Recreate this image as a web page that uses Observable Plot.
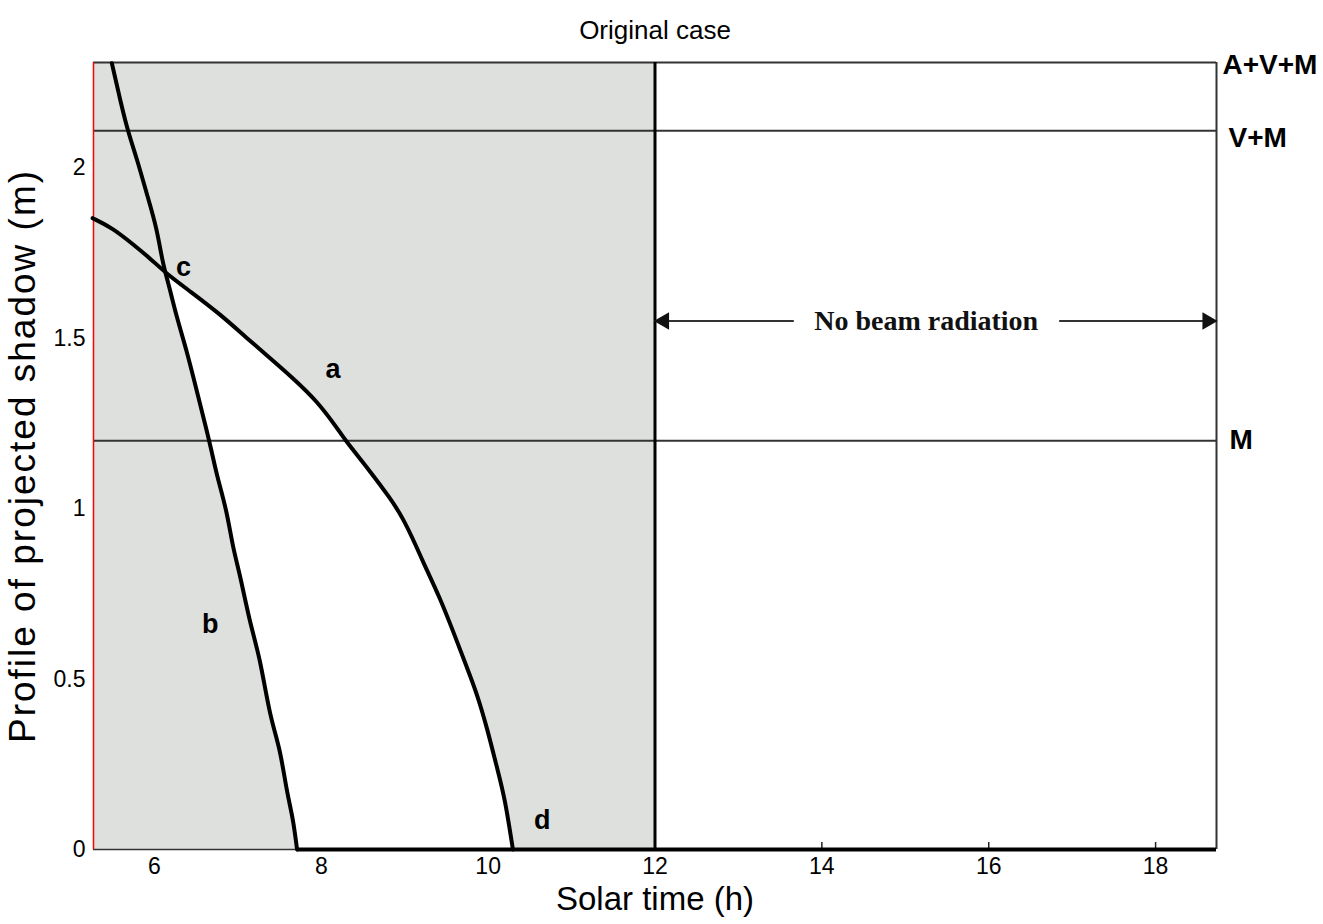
<!DOCTYPE html>
<html><head><meta charset="utf-8">
<script src="https://cdn.jsdelivr.net/npm/d3@7"></script>
<script src="https://cdn.jsdelivr.net/npm/@observablehq/plot@0.6"></script>
<style>html,body{margin:0;padding:0;background:#fff} svg{display:block}</style>
</head><body><div id="chart"></div>
<script>
// ---- data ----
const xDomain = [5.27, 18.73];
const yDomain = [0, 2.31];
const xTicks = [6, 8, 10, 12, 14, 16, 18];
const yTicks = [0, 0.5, 1, 1.5, 2];

const curveAx = [5.26, 5.50, 5.74, 5.945, 6.149, 6.425, 6.784, 7.108, 7.384, 7.659, 7.947, 8.187, 8.29, 8.583, 8.823, 8.978, 9.146, 9.218, 9.422, 9.578, 9.746, 9.866, 9.986, 10.106, 10.20, 10.297];
const curveAy = [1.853, 1.824, 1.777, 1.736, 1.689, 1.639, 1.572, 1.501, 1.443, 1.384, 1.317, 1.238, 1.2, 1.111, 1.032, 0.974, 0.886, 0.845, 0.739, 0.642, 0.534, 0.457, 0.358, 0.240, 0.152, 0];

const curveBx = [5.49, 5.585, 5.681, 5.789, 5.909, 6.029, 6.101, 6.161, 6.269, 6.389, 6.508, 6.628, 6.685, 6.755, 6.868, 6.940, 7.024, 7.146, 7.266, 7.386, 7.505, 7.59, 7.66, 7.71];
const curveBy = [2.308, 2.205, 2.108, 2.029, 1.924, 1.824, 1.718, 1.669, 1.560, 1.463, 1.346, 1.229, 1.170, 1.091, 0.994, 0.886, 0.809, 0.663, 0.563, 0.387, 0.299, 0.164, 0.094, 0];

const pointC = [6.16, 1.68];          // crossing of curves a and b
const noonTime = 12;                   // no beam radiation after solar noon

const levelNames = ["A+V+M", "V+M", "M"];
const levelValues = [2.31, 2.11, 1.2];

const curveLabels = ["a", "b", "c", "d"];
const curveLabelX = [8.14, 6.67, 6.35, 10.65];
const curveLabelY = [1.41, 0.66, 1.71, 0.085];

const noBeamText = "No beam radiation";
const noBeamX = 15.25;
const noBeamY = 1.551;
const noBeamArrowFrom = [13.67, 16.85];

const titleText = "Original case";
const xLabelText = "Solar time (h)";
const yLabelText = "Profile of projected shadow (m)";

// ---- build tables ----
const curveA = curveAx.map((x, i) => ({x, y: curveAy[i]}));
const curveB = curveBx.map((x, i) => ({x, y: curveBy[i]}));
const cPt = {x: pointC[0], y: pointC[1]};
const whiteRegion = [cPt, ...curveB.filter(d => d.y < pointC[1]), ...curveA.filter(d => d.y < pointC[1]).reverse()];
const shaded = [{from: xDomain[0], to: noonTime}];
const levels = levelNames.map((name, i) => ({name, value: levelValues[i]}));
const labels = curveLabels.map((t, i) => ({t, x: curveLabelX[i], y: curveLabelY[i]}));
const arrowSegs = [{from: noonTime, to: noBeamArrowFrom[0]}, {from: noBeamArrowFrom[1], to: xDomain[1]}];
const heads = [{x: noonTime, rot: -90, dx: 9}, {x: xDomain[1], rot: 90, dx: -9}];
const levelOffsets = [[6, 3], [12, 7], [13, -1]];

const sans = "Liberation Sans, Arial, Helvetica, sans-serif";
const lineW = 4;

const chart = Plot.plot({
  width: 1323,
  height: 924,
  marginLeft: 93,
  marginRight: 107,
  marginTop: 62,
  marginBottom: 75,
  style: {fontFamily: sans, fontSize: "24px", color: "#000", background: "#fff"},
  x: {domain: xDomain, axis: null},
  y: {domain: yDomain, axis: null},
  marks: [
    // inward tick marks (covered by the shading where it lies on top)
    Plot.axisX({ticks: xTicks, tickSize: -7, tickFormat: () => "", label: null, stroke: "#222", strokeWidth: 1.5}),
    Plot.rect(shaded, {x1: "from", x2: "to", y1: yDomain[0], y2: yDomain[1], fill: "#dde0dd"}),
    Plot.line(whiteRegion, {x: "x", y: "y", fill: "#ffffff", stroke: "none", curve: "linear-closed"}),
    // tick labels
    Plot.axisX({ticks: xTicks, tickSize: 0, tickPadding: 8, label: null, fontSize: 23, tickFormat: d => String(d)}),
    Plot.axisY({ticks: yTicks, tickSize: 0, tickPadding: 8, label: null, fontSize: 23, tickFormat: d => String(d)}),
    // frame & level lines
    Plot.ruleY(levels, {y: "value", stroke: "#333", strokeWidth: 2}),
    Plot.ruleY([yDomain[0]], {stroke: "#333", strokeWidth: 1.5}),
    Plot.ruleX([xDomain[1]], {stroke: "#333", strokeWidth: 2}),
    Plot.ruleX([xDomain[0]], {stroke: "#ff0000", strokeWidth: 1.5}),
    // curves
    Plot.line(curveA, {x: "x", y: "y", stroke: "#000", strokeWidth: lineW, strokeLinejoin: "round", curve: "basis"}),
    Plot.line(curveB, {x: "x", y: "y", stroke: "#000", strokeWidth: lineW, strokeLinejoin: "round", curve: "basis"}),
    Plot.ruleY([0], {x1: curveBx[curveBx.length - 1], x2: xDomain[1], stroke: "#000", strokeWidth: lineW}),
    Plot.ruleX([noonTime], {y1: yDomain[0], y2: yDomain[1], stroke: "#000", strokeWidth: 3}),
    // no beam radiation arrow
    Plot.ruleY(arrowSegs, {x1: "from", x2: "to", y: noBeamY, stroke: "#333", strokeWidth: 2}),
    ...heads.map(h => Plot.dot([h], {x: "x", y: noBeamY, symbol: "triangle", r: 6.5, rotate: h.rot, dx: h.dx, fill: "#111", stroke: "none"})),
    Plot.text([noBeamText], {x: noBeamX, y: noBeamY, text: d => d, fontFamily: "Liberation Serif, Times New Roman, serif", fontWeight: "bold", fontSize: 28, fill: "#111"}),
    // curve labels
    Plot.text(labels, {x: "x", y: "y", text: "t", fontWeight: "bold", fontSize: 27, fill: "#000"}),
    // level labels
    ...levels.map((l, i) => Plot.text([l], {x: xDomain[1], y: "value", text: "name", textAnchor: "start", dx: levelOffsets[i][0], dy: levelOffsets[i][1], fontWeight: "bold", fontSize: 28, fill: "#000"})),
    // titles
    Plot.text([titleText], {frameAnchor: "top", dy: -42, text: d => d, fontSize: 26, fill: "#000"}),
    Plot.text([xLabelText], {frameAnchor: "bottom", dy: 60, text: d => d, fontSize: 33, lineHeight: 0.85, fill: "#000"}),
    Plot.text([yLabelText], {frameAnchor: "left", dx: -70, rotate: -90, textAnchor: "middle", text: d => d, fontSize: 37, fill: "#000"})
  ]
});
d3.select(chart).selectAll("text")
  .filter(function() { return this.textContent === yLabelText; })
  .style("letter-spacing", "2px");
document.getElementById("chart").appendChild(chart);
</script>
</body></html>
